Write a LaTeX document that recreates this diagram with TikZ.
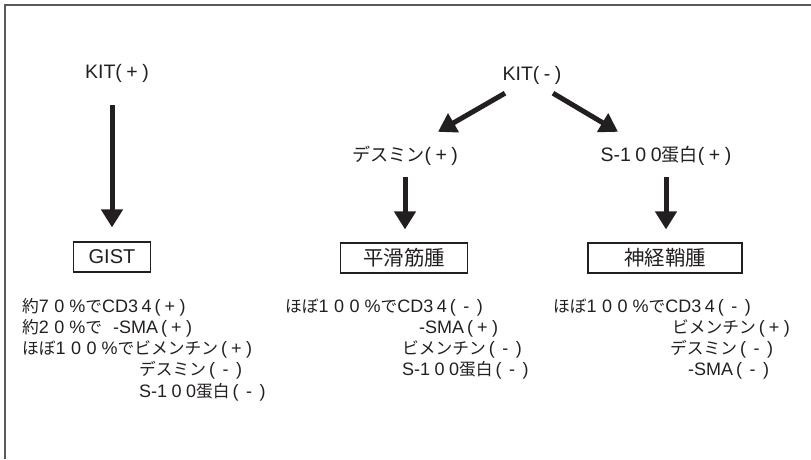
\documentclass[tikz,border=0pt]{standalone}
\usepackage{fontspec}
\setmainfont{Liberation Sans}
\newfontfamily\jpfont{Noto Sans CJK JP}[Scale=0.93]
\newcommand\J[1]{{\jpfont #1}}
\newcommand\sk{\kern4.5pt}
\newcommand\dk{\kern5.5pt}
\newcommand\bplus{\kern3pt(\kern4pt+\kern4.5pt)}
\newcommand\bminus{\kern3pt(\kern7.5pt-\kern7.5pt)}
\usetikzlibrary{arrows.meta}
\definecolor{ink}{HTML}{231F20}
\definecolor{framegray}{HTML}{595959}
\begin{document}
\begin{tikzpicture}[x=1pt,y=-1pt,
  lbl/.style={inner sep=0pt, text=ink, font=\fontsize{19.5}{22}\selectfont, text height=14pt, text depth=4pt, anchor=base},
  body/.style={inner sep=0pt, text=ink, font=\fontsize{18}{21}\selectfont, anchor=base west},
  tumor/.style={draw=ink, line width=1.2pt, inner sep=0pt, minimum height=30pt, text=ink, font=\fontsize{20}{23}\selectfont},
  arr/.style={draw=ink, line width=5pt, -{Triangle[width=21pt,length=18pt]}},
]
\useasboundingbox (0,0) rectangle (811,459);
\draw[framegray, line width=1.6pt] (5,459) -- (5,5) -- (811,5);

% headings
\node[lbl] (kitp) at (117,78) {KIT(\sk+\sk)};
\node[lbl] (kitm) at (532,80) {KIT(\sk-\sk)};
\node[lbl] (desm) at (405,161) {\J{デスミン}(\sk+\sk)};
\node[lbl] (s100) at (666,161) {S-1\sk0\sk0\J{蛋白}(\sk+\sk)};

% boxes
\node[tumor, minimum width=77pt] (gist) at (112,257) {GIST};
\node[tumor, minimum width=127pt] (leio) at (404,258) {{\fontsize{22}{24}\selectfont\J{平滑筋腫}}};
\node[tumor, minimum width=154pt] (schw) at (665,258) {{\fontsize{22}{24}\selectfont\J{神経鞘腫}}};

% arrows
\draw[arr, shorten <=23pt, shorten >=14pt] (kitp.south -| gist.north) -- (gist.north);
\draw[arr] ([shift={(-27,9)}]kitm.south) -- ([shift={(33,-15)}]desm.north);
\draw[arr] ([shift={(21,9)}]kitm.south) -- ([shift={(-48,-15)}]s100.north);
\draw[arr, shorten <=12pt, shorten >=13pt] (desm.south) -- (desm.south |- leio.north);
\draw[arr, shorten <=12pt, shorten >=13pt] (s100.south) -- (s100.south |- schw.north);

% GIST column
\node[body] (g1) at (22,312) {\J{約}7\dk0\kern5pt\%\J{で}CD3\kern3.5pt4\bplus};
\node[body] (g2) at (22,333.3) {\J{約}2\dk0\kern5pt\%\J{で}\hspace{11pt}-SMA\bplus};
\node[body] (g3) at (22,354.6) {\J{ほぼ}1\dk0\dk0\kern5pt\%\J{でビメンチン}\bplus};
\node[body] (g4) at (139,375.9) {\J{デスミン}\bminus};
\node[body] (g5) at (139,397.2) {S-1\sk0\sk0\J{蛋白}\bminus};

% leiomyoma column
\node[body] (l1) at (285,312) {\J{ほぼ}1\dk0\dk0\kern5pt\%\J{で}CD3\kern3.5pt4\bminus};
\node[body] (l2) at (419,333.3) {-SMA\bplus};
\node[body] (l3) at (402,354.6) {\J{ビメンチン}\bminus};
\node[body] (l4) at (402,375.9) {S-1\sk0\sk0\J{蛋白}\bminus};

% schwannoma column
\node[body] (n1) at (553,312) {\J{ほぼ}1\dk0\dk0\kern5pt\%\J{で}CD3\kern3.5pt4\bminus};
\node[body] (n2) at (672,333.3) {\J{ビメンチン}\bplus};
\node[body] (n3) at (670,354.6) {\J{デスミン}\bminus};
\node[body] (n4) at (688,375.9) {-SMA\bminus};
\end{tikzpicture}
\end{document}
